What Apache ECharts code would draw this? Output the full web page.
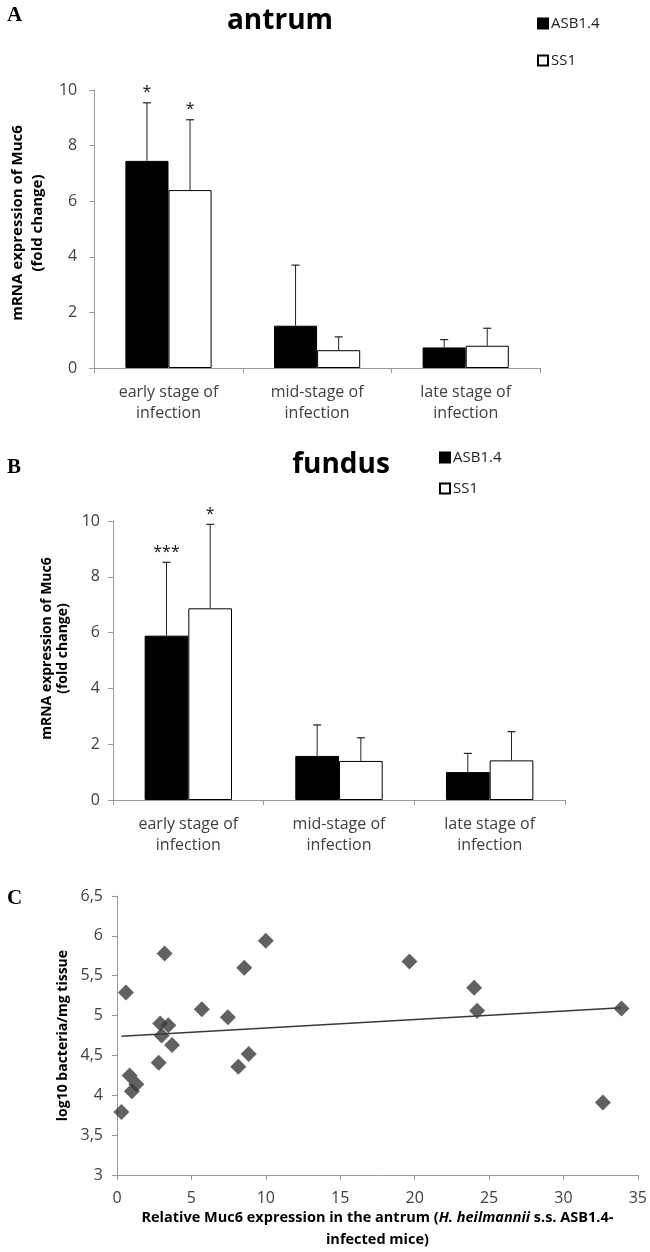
<!DOCTYPE html>
<html><head><meta charset="utf-8">
<script src="https://cdn.jsdelivr.net/npm/echarts@6/dist/echarts.min.js"></script>
<style>html,body{margin:0;padding:0;background:#fff}#c{width:650px;height:1252px}</style>
</head><body><div id="c"></div>
<script>
// ---------- data ----------
const stages = ['early stage of\ninfection', 'mid-stage of\ninfection', 'late stage of\ninfection'];
const seriesNames = ['ASB1.4', 'SS1'];
// Panel A: antrum
const antrumASB   = [7.45, 1.52, 0.74];
const antrumASBsd = [2.09, 2.18, 0.28];
const antrumASBsig = ['*', '', ''];
const antrumSS1   = [6.40, 0.64, 0.80];
const antrumSS1sd = [2.53, 0.48, 0.63];
const antrumSS1sig = ['*', '', ''];
// Panel B: fundus
const fundusASB   = [5.89, 1.58, 1.00];
const fundusASBsd = [2.63, 1.11, 0.67];
const fundusASBsig = ['***', '', ''];
const fundusSS1   = [6.87, 1.40, 1.42];
const fundusSS1sd = [3.01, 0.83, 1.03];
const fundusSS1sig = ['*', '', ''];
// Panel C: scatter
const muc6Expr = [0.3, 0.6, 0.85, 1.0, 1.3, 2.8, 2.9, 3.0, 3.2, 3.45, 3.7, 5.7, 7.45, 8.15, 8.55, 8.85, 10.0, 19.65, 24.0, 24.2, 32.65, 33.9];
const log10Bact = [3.79, 5.29, 4.25, 4.05, 4.14, 4.41, 4.90, 4.75, 5.78, 4.88, 4.63, 5.08, 4.98, 4.36, 5.60, 4.52, 5.94, 5.68, 5.35, 5.06, 3.91, 5.09];

// ---------- helpers ----------
const FONT = 'Open Sans';
const AXIS_GRAY = '#9a9a9a';
const LABEL_COLOR = '#404040';
const CAT_GAP = 0.42;

// linear trend line (least squares) from the scatter arrays
function trend(xs, ys) {
  const n = xs.length;
  const mx = xs.reduce((a, b) => a + b, 0) / n;
  const my = ys.reduce((a, b) => a + b, 0) / n;
  let sxy = 0, sxx = 0;
  for (let i = 0; i < n; i++) { sxy += (xs[i] - mx) * (ys[i] - my); sxx += (xs[i] - mx) ** 2; }
  const b = sxy / sxx, a = my - b * mx;
  const x0 = Math.min(...xs), x1 = Math.max(...xs);
  return [[x0, a + b * x0], [x1, a + b * x1]];
}

function barSeries(name, idx, values, filled) {
  return {
    name: name, type: 'bar', xAxisIndex: idx, yAxisIndex: idx,
    data: values, barGap: '0%', barCategoryGap: (CAT_GAP * 100) + '%',
    itemStyle: filled ? { color: '#000', borderColor: '#000', borderWidth: 1 }
                      : { color: '#fff', borderColor: '#000', borderWidth: 1 },
    silent: true
  };
}

function errSeries(idx, means, sds, sigs, side, sigFont) {
  return {
    type: 'custom', xAxisIndex: idx, yAxisIndex: idx, z: 5, clip: false, silent: true,
    data: means.map((m, i) => [i, m, m + sds[i]]),
    encode: { x: 0, y: [1, 2] },
    renderItem: function (params, api) {
      const i = api.value(0);
      const base = api.coord([i, api.value(1)]);
      const top = api.coord([i, api.value(2)]);
      const catW = api.size([1, 0])[0];
      const bw = catW * (1 - CAT_GAP) / 2;
      const x = base[0] + side * bw / 2;
      const sig = sigs[params.dataIndex];
      const children = [
        { type: 'line', shape: { x1: x, y1: base[1], x2: x, y2: top[1] }, style: { stroke: '#222', lineWidth: 1 } },
        { type: 'line', shape: { x1: x - 4, y1: top[1], x2: x + 4, y2: top[1] }, style: { stroke: '#222', lineWidth: 1.2 } }
      ];
      if (sig) {
        children.push({ type: 'text', x: x, y: top[1] - 2,
          style: { text: sig, align: 'center', verticalAlign: 'bottom', fontSize: sigFont, fontFamily: FONT, fill: '#111' } });
      }
      return { type: 'group', children: children };
    }
  };
}

function catAxis(idx) {
  return {
    type: 'category', gridIndex: idx, data: stages,
    axisLine: { lineStyle: { color: AXIS_GRAY, width: 1 } },
    axisTick: { show: true, length: 5, lineStyle: { color: AXIS_GRAY } },
    axisLabel: { interval: 0, fontFamily: FONT, fontSize: 16, lineHeight: 21, color: LABEL_COLOR, margin: 14 },
    splitLine: { show: false }
  };
}

function valAxisBars(idx, nameSize, nameLH, nameGap, labelMargin, shiftUp) {
  return {
    type: 'value', gridIndex: idx, min: 0, max: 10, interval: 2,
    name: 'mRNA expression of Muc6\n(fold change)', nameLocation: 'middle', nameGap: nameGap,
    nameTextStyle: { fontFamily: FONT, fontSize: nameSize, lineHeight: nameLH, fontWeight: 'bold', color: '#000',
      padding: [0, 0, 0, shiftUp * 2] },
    axisLine: { show: true, lineStyle: { color: AXIS_GRAY, width: 1 } },
    axisTick: { show: true, length: 5, lineStyle: { color: AXIS_GRAY } },
    axisLabel: { fontFamily: FONT, fontSize: 16, color: LABEL_COLOR, margin: labelMargin },
    splitLine: { show: false }
  };
}

const titleBase = { fontFamily: FONT, fontWeight: 'bold', color: '#000' };
const letterBase = { fontFamily: 'Liberation Serif', fontWeight: 'bold', color: '#000', fontSize: 21 };

const option = {
  animation: false,
  backgroundColor: '#fff',
  title: [
    { text: 'A', left: 2, top: 0, textStyle: letterBase },
    { text: 'antrum', left: 275, top: 2, textAlign: 'center', textStyle: Object.assign({ fontSize: 28 }, titleBase) },
    { text: 'B', left: 2, top: 452, textStyle: letterBase },
    { text: 'fundus', left: 336, top: 446, textAlign: 'center', textStyle: Object.assign({ fontSize: 28 }, titleBase) },
    { text: 'C', left: 2, top: 883, textStyle: letterBase }
  ],
  legend: [
    { data: seriesNames, orient: 'vertical', left: 537, top: 16, padding: 0, itemGap: 22,
      itemWidth: 10, itemHeight: 10, icon: 'rect', selectedMode: false,
      textStyle: { fontFamily: FONT, fontSize: 15, color: '#222', padding: [0, 0, 0, -2] } },
    { data: seriesNames, orient: 'vertical', left: 439, top: 450, padding: 0, itemGap: 16,
      itemWidth: 10, itemHeight: 10, icon: 'rect', selectedMode: false,
      textStyle: { fontFamily: FONT, fontSize: 15, color: '#222', padding: [0, 0, 0, -2] } }
  ],
  grid: [
    { left: 80, top: 90, width: 460, height: 278 },
    { left: 113, top: 521, width: 452, height: 279 },
    { left: 117, top: 896, width: 523, height: 280 }
  ],
  xAxis: [
    catAxis(0),
    catAxis(1),
    {
      type: 'value', gridIndex: 2, min: 0, max: 35, interval: 5,
      name: 'Relative Muc6 expression in the antrum ({i|H. heilmannii} s.s. ASB1.4-\ninfected mice)',
      nameLocation: 'middle', nameGap: 30,
      nameTextStyle: { fontFamily: FONT, fontSize: 14.5, lineHeight: 22, fontWeight: 'bold', color: '#000',
        rich: { i: { fontFamily: FONT, fontSize: 14.5, lineHeight: 22, fontWeight: 'bold', fontStyle: 'italic', color: '#000' } } },
      axisLine: { show: true, lineStyle: { color: AXIS_GRAY, width: 1 } },
      axisTick: { show: true, length: 5, lineStyle: { color: AXIS_GRAY } },
      axisLabel: { fontFamily: FONT, fontSize: 16, color: LABEL_COLOR, margin: 15 },
      splitLine: { show: false }
    }
  ],
  yAxis: [
    valAxisBars(0, 15, 20, 37, 17, 6),
    valAxisBars(1, 14, 16, 35, 13, 12),
    {
      type: 'value', gridIndex: 2, min: 3, max: 6.5, interval: 0.5,
      name: 'log10 bacteria/mg tissue', nameLocation: 'middle', nameGap: 43,
      nameTextStyle: { fontFamily: FONT, fontSize: 14, fontWeight: 'bold', color: '#000' },
      axisLine: { show: true, lineStyle: { color: AXIS_GRAY, width: 1 } },
      axisTick: { show: true, length: 5, lineStyle: { color: AXIS_GRAY } },
      axisLabel: { fontFamily: FONT, fontSize: 16, color: LABEL_COLOR, margin: 14,
        formatter: v => String(v).replace('.', ',') },
      splitLine: { show: false }
    }
  ],
  series: [
    barSeries('ASB1.4', 0, antrumASB, true),
    barSeries('SS1', 0, antrumSS1, false),
    errSeries(0, antrumASB, antrumASBsd, antrumASBsig, -1, 16),
    errSeries(0, antrumSS1, antrumSS1sd, antrumSS1sig, 1, 16),
    barSeries('ASB1.4', 1, fundusASB, true),
    barSeries('SS1', 1, fundusSS1, false),
    errSeries(1, fundusASB, fundusASBsd, fundusASBsig, -1, 16),
    errSeries(1, fundusSS1, fundusSS1sd, fundusSS1sig, 1, 16),
    {
      type: 'scatter', xAxisIndex: 2, yAxisIndex: 2, symbol: 'diamond', symbolSize: 16,
      data: muc6Expr.map((x, i) => [x, log10Bact[i]]),
      itemStyle: { color: '#3a3a3a' }, silent: true
    },
    {
      type: 'line', xAxisIndex: 2, yAxisIndex: 2, showSymbol: false, symbol: 'none', z: 3,
      data: trend(muc6Expr, log10Bact),
      lineStyle: { color: '#3a3a3a', width: 1.5 }, silent: true
    }
  ]
};

const chart = echarts.init(document.getElementById('c'), null, { renderer: 'canvas' });
chart.setOption(option);
</script>
</body></html>
